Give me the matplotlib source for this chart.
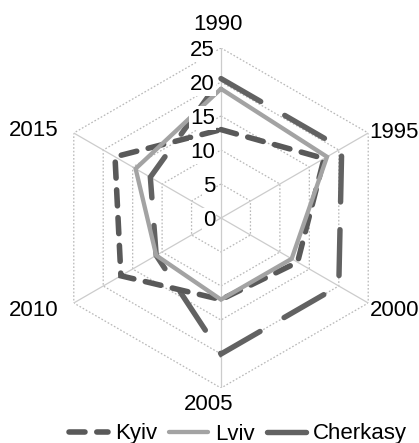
import numpy as np
import matplotlib
matplotlib.use('Agg')
import matplotlib.pyplot as plt
from matplotlib.lines import Line2D

plt.rcParams['font.family'] = ['Liberation Sans', 'DejaVu Sans']
plt.rcParams['lines.scale_dashes'] = False

# Data
years = ['1990', '1995', '2000', '2005', '2010', '2015']
kyiv = [13, 17.5, 13, 12, 17, 18]
lviv = [19, 18, 12, 12, 11, 14.5]
cherkasy = [20.5, 20.5, 20, 20, 11, 12]
r_ticks = [0, 5, 10, 15, 20, 25]
r_max = 25

angles = np.deg2rad(np.arange(len(years)) * 60)
closed = np.append(angles, angles[0])


def close(vals):
    return list(vals) + [vals[0]]


fig = plt.figure(figsize=(4.19, 4.43), dpi=100)
ax = fig.add_axes([51 / 419, 55 / 443, 340 / 419, 340 / 443], projection='polar')
ax.set_theta_zero_location('N')
ax.set_theta_direction(-1)
ax.set_ylim(0, r_max)
ax.grid(False)
ax.set_xticks([])
ax.set_yticks([])
ax.spines['polar'].set_visible(False)
ax.patch.set_visible(False)

# hexagon rings (dotted) and spokes (solid)
for r in r_ticks[1:]:
    ax.plot(closed, [r] * len(closed), color='#b8b8b8', lw=0.9,
            ls=(0, (1.2, 1.4)), zorder=1)
for a in angles:
    ax.plot([a, a], [0, r_max], color='#cccccc', lw=0.9, zorder=1)

# series: name, values, color, width, style, zorder
series = [
    ('Kyiv', kyiv, '#595959', 4.0, (0, (11.5, 8.5)), 3),
    ('Lviv', lviv, '#a3a3a3', 3.1, '-', 4),
    ('Cherkasy', cherkasy, '#626262', 3.9, (0, (33, 20)), 2),
]
handles = []
for name, vals, color, lw, ls, z in series:
    ax.plot(closed, close(vals), color=color, lw=lw, ls=ls, zorder=z,
            dash_capstyle='round', solid_capstyle='round',
            solid_joinstyle='miter', dash_joinstyle='miter', clip_on=False)
    handles.append(Line2D([], [], color=color, lw=lw, ls=ls,
                          dash_capstyle='round', solid_capstyle='round'))

# radial tick labels on the vertical axis
for v in r_ticks:
    ax.annotate(str(v), xy=(0, v), xytext=(-6, -2), textcoords='offset pixels',
                ha='right', va='center', fontsize=16, zorder=10,
                bbox=dict(boxstyle='square,pad=0.05', fc='white', ec='none'))

# category labels
label_pos = [
    ((-3, 24), 'center', 'center'),
    ((1, 0), 'left', 'center'),
    ((2, -7), 'left', 'center'),
    ((-12, -16), 'center', 'center'),
    ((-15, -7), 'right', 'center'),
    ((-15, 3), 'right', 'center'),
]
for a, txt, (off, ha, va) in zip(angles, years, label_pos):
    ax.annotate(txt, xy=(a, r_max), xytext=off, textcoords='offset pixels',
                ha=ha, va=va, fontsize=16, annotation_clip=False)

fig.legend(handles, [s[0] for s in series], loc='center',
           bbox_to_anchor=(238 / 419, 1 - 434 / 443), ncol=3, frameon=False,
           fontsize=16, handlelength=1.75, handletextpad=0.32,
           columnspacing=0.55, borderaxespad=0)

fig.savefig('out.png', dpi=100)
